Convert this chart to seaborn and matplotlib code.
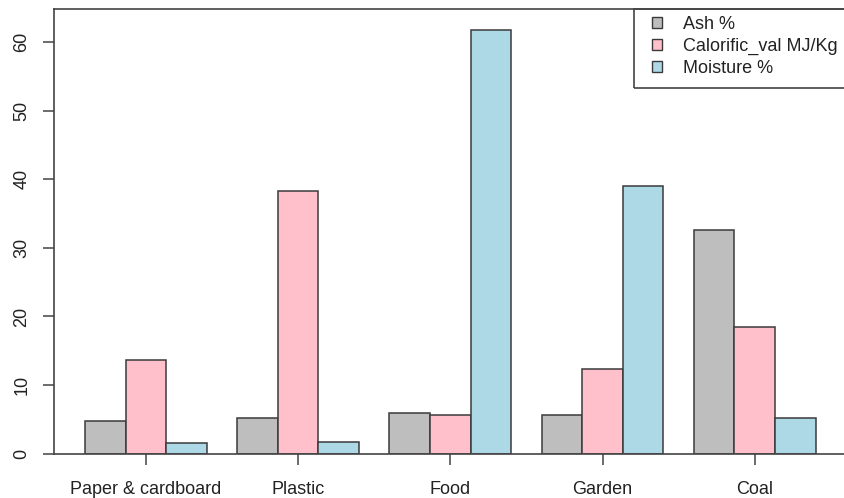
import pandas as pd
import matplotlib
matplotlib.use("Agg")
import matplotlib.pyplot as plt
from matplotlib.patches import Patch, Rectangle
import seaborn as sns

categories = ["Paper & cardboard", "Plastic", "Food", "Garden", "Coal"]
ash = [4.7, 5.2, 6.0, 5.7, 32.6]
calorific = [13.6, 38.3, 5.6, 12.4, 18.5]
moisture = [1.6, 1.7, 61.8, 39.0, 5.2]
series_names = ["Ash %", "Calorific_val MJ/Kg", "Moisture %"]
colors = ["#BEBEBE", "#FFC0CB", "#ADD8E6"]

df = pd.DataFrame({"material": categories,
                   series_names[0]: ash,
                   series_names[1]: calorific,
                   series_names[2]: moisture})
df = df.melt(id_vars="material", var_name="measure", value_name="value")

sns.set_theme(style="white")
plt.rcParams["font.family"] = ["Liberation Sans", "DejaVu Sans"]

W, H = 845, 498
fig = plt.figure(figsize=(W / 100, H / 100), dpi=100)
# plot box in pixel terms: left 54, right past the edge, top 9, zero line at 453.7
ax = fig.add_axes([54 / W, (H - 453.7) / H, (852 - 54) / W, 444.4 / H])

sns.barplot(data=df, x="material", y="value", hue="measure",
            hue_order=series_names, palette=colors, saturation=1,
            width=0.8, edgecolor="#3a3a3a", linewidth=1.1,
            legend=False, ax=ax)

ax.set_xlim(-0.604, 4.639)
ax.set_ylim(0, 64.78)
ax.set_yticks([0, 10, 20, 30, 40, 50, 60])
ax.set_xlabel("")
ax.set_ylabel("")

edge = "#444444"
for side in ["right", "bottom"]:
    ax.spines[side].set_visible(False)
for side in ["left", "top"]:
    ax.spines[side].set_color(edge)
    ax.spines[side].set_linewidth(1.2)
ax.axhline(0, color=edge, lw=1.2, clip_on=False)

ax.tick_params(axis="both", which="major", length=8, width=1.1, color=edge,
               labelsize=13, labelcolor="#222222", direction="out",
               bottom=True, left=True)
ax.tick_params(axis="x", pad=11.5)
ax.tick_params(axis="y", pad=9, labelrotation=90)
for lab in ax.get_yticklabels():
    lab.set_verticalalignment("center")

handles = [Patch(facecolor=c, edgecolor="#3a3a3a", linewidth=1.0) for c in colors]
leg = ax.legend(handles, series_names, loc="upper left", frameon=False,
                bbox_to_anchor=(645 / W, 1 - 9 / H), bbox_transform=fig.transFigure,
                fontsize=13, borderpad=0.38, handlelength=0.55, handleheight=0.55,
                handletextpad=1.2, labelspacing=0.27, borderaxespad=0)
for t in leg.get_texts():
    t.set_color("#222222")
fig.patches.append(Rectangle((634 / W, 1 - 88.3 / H), 0.5, (88.3 - 9) / H,
                             transform=fig.transFigure, fill=False,
                             edgecolor=edge, linewidth=1.2))

fig.savefig("out.png", dpi=100)
